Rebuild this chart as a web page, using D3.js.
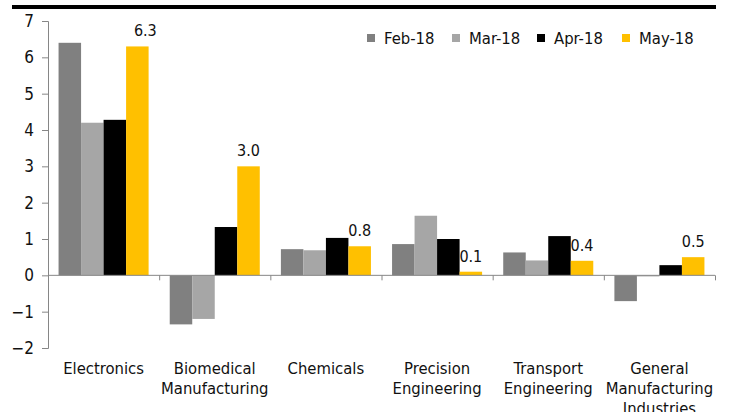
<!DOCTYPE html>
<html><head><meta charset="utf-8">
<script src="https://cdn.jsdelivr.net/npm/d3@7"></script>
<style>body{margin:0;background:#fff}svg{display:block}text{font-family:"DejaVu Sans Condensed","DejaVu Sans",sans-serif;fill:#111}</style>
</head><body><svg id="c" width="732" height="412"></svg>
<script>
const categories = [["Electronics"],["Biomedical","Manufacturing"],["Chemicals"],["Precision","Engineering"],["Transport","Engineering"],["General","Manufacturing","Industries"]];
const seriesNames = ["Feb-18","Mar-18","Apr-18","May-18"];
const feb18 = [6.4,-1.35,0.72,0.86,0.63,-0.71];
const mar18 = [4.2,-1.2,0.69,1.64,0.41,-0.03];
const apr18 = [4.28,1.33,1.03,1.0,1.08,0.28];
const may18 = [6.3,3.0,0.8,0.1,0.4,0.5];
const mayLabels = ["6.3","3.0","0.8","0.1","0.4","0.5"];
const yTicks = [-2,-1,0,1,2,3,4,5,6,7];
const colors = ["#808080","#a6a6a6","#000000","#ffc000"];

const series = [feb18,mar18,apr18,may18];
const svg = d3.select("#c");
const pL = 48, pR = 715, pT = 21, pB = 348;
const y = d3.scaleLinear().domain([-2,7]).range([pB,pT]);
const x0 = d3.scaleBand().domain(d3.range(categories.length)).range([pL,pR]).paddingInner(0.19).paddingOuter(0.095);
const x1 = d3.scaleBand().domain(d3.range(series.length)).range([0,x0.bandwidth()]);

// top rule
svg.append("rect").attr("x",12).attr("y",5).attr("width",704).attr("height",4).attr("fill","#000");

// bars
series.forEach((s,si)=>{
  svg.append("g").selectAll("rect").data(s).join("rect")
    .attr("x",(d,i)=>x0(i)+x1(si))
    .attr("width",x1.bandwidth())
    .attr("y",d=>y(Math.max(0,d)))
    .attr("height",d=>Math.abs(y(d)-y(0)))
    .attr("fill",colors[si]);
});

// y axis
const ya = svg.append("g").attr("transform",`translate(${pL},0)`)
  .call(d3.axisLeft(y).tickValues(yTicks).tickSize(6).tickPadding(8).tickFormat(d3.format("d")));
ya.select(".domain").attr("stroke","#868686");
ya.selectAll(".tick line").attr("stroke","#868686");
ya.selectAll(".tick text").attr("font-size",17).attr("fill","#111").attr("font-family","DejaVu Sans Condensed, DejaVu Sans");

// x axis at zero
const step = (pR-pL)/categories.length;
const xa = d3.scaleLinear().domain([0,categories.length]).range([pL,pR]);
const xg = svg.append("g").attr("transform",`translate(0,${y(0)})`)
  .call(d3.axisBottom(xa).tickValues(d3.range(1,categories.length+1)).tickSize(5).tickFormat(""));
xg.select(".domain").attr("stroke","#868686").attr("d",`M${pL},0H${pR}`);
xg.selectAll(".tick line").attr("stroke","#868686");

// category labels
categories.forEach((lines,i)=>{
  const t = svg.append("text").attr("text-anchor","middle").attr("font-size",16.5)
    .attr("x",pL+step*(i+0.5)).attr("y",374);
  lines.forEach((l,j)=>t.append("tspan").attr("x",pL+step*(i+0.5)).attr("dy",j?20:0).text(l));
});

// data labels for May
svg.append("g").selectAll("text").data(may18).join("text")
  .attr("text-anchor","middle").attr("font-size",16)
  .attr("x",(d,i)=>x0(i)+x1(3)+x1.bandwidth()/2+(i===0?8:0))
  .attr("y",d=>y(d)-10)
  .text((d,i)=>mayLabels[i]);

// legend
const lx = [367,452,537,622];
const lg = svg.append("g").selectAll("g").data(seriesNames).join("g").attr("transform",(d,i)=>`translate(${lx[i]},34)`);
lg.append("rect").attr("width",8).attr("height",8).attr("fill",(d,i)=>colors[i]);
lg.append("text").attr("x",17).attr("y",9.5).attr("font-size",16.5).text(d=>d);
</script></body></html>
